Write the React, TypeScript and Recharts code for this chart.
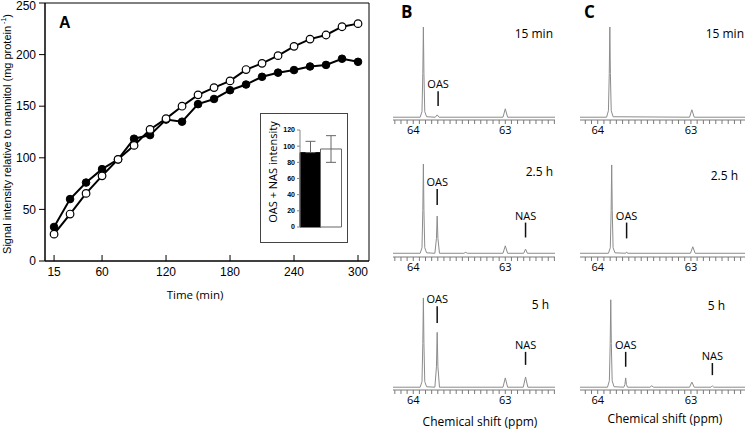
import React from "react";
import {
  Bar,
  BarChart,
  Cell,
  ErrorBar,
  Line,
  LineChart,
  ReferenceArea,
  ReferenceLine,
  XAxis,
  YAxis,
} from "recharts";

// Panel A: time course (min) and signal relative to mannitol
const timeMin = [15, 30, 45, 60, 75, 90, 105, 120, 135, 150, 165, 180, 195, 210, 225, 240, 255, 270, 285, 300];
const filledSignal = [33, 60, 76, 89, 98.5, 118.5, 122, 137, 135, 152, 157, 165.5, 171, 178.5, 182.5, 185, 188.5, 190, 196, 193];
const openSignal = [26, 45.5, 65.5, 82.5, 98.5, 112, 127.5, 138, 150, 161, 168, 174.5, 185.5, 191.5, 199, 208, 215, 219, 227, 230];
const timeTicks = [15, 60, 120, 180, 240, 300];
const signalTicks = [0, 50, 100, 150, 200, 250];

// Inset: OAS + NAS intensity
const insetGroups = ["filled", "open"];
const insetMeans = [92, 96.5];
const insetErrors: [number, number][] = [
  [0, 14],
  [16.5, 16.5],
];
const insetTicks = [0, 20, 40, 60, 80, 100, 120];

// Panels B and C: 13C spectra, [ppm, intensity]
const ppmLabels = [64, 63];
const ppmTickStep = 1 / 15; // 10 Hz grid

const spectrumB15: [number, number][] = [
  [64.22, 3], [63.925, 3], [63.905, 9], [63.896, 50], [63.89, 100], [63.884, 50], [63.875, 9], [63.855, 3.5],
  [63.76, 3], [63.74, 5.5], [63.72, 3], [63.025, 3], [63.0, 12], [62.975, 3], [62.46, 3],
];
const spectrumB25: [number, number][] = [
  [64.22, 4], [63.925, 4], [63.905, 10], [63.896, 50], [63.89, 100], [63.884, 50], [63.875, 10], [63.855, 4.5],
  [63.765, 4], [63.748, 20], [63.74, 44], [63.732, 20], [63.715, 4], [63.45, 4], [63.43, 5], [63.41, 4],
  [63.025, 4], [63.0, 12], [62.975, 4], [62.8, 4], [62.78, 8.5], [62.76, 4], [62.46, 4],
];
const spectrumB5: [number, number][] = [
  [64.22, 3], [63.925, 3], [63.905, 9], [63.896, 50], [63.89, 99], [63.884, 50], [63.875, 9], [63.855, 3.5],
  [63.765, 3], [63.748, 25], [63.74, 62], [63.732, 25], [63.715, 3], [63.025, 3], [63.0, 13], [62.975, 3],
  [62.805, 3], [62.78, 14], [62.755, 3], [62.46, 3],
];
const spectrumC15: [number, number][] = [
  [64.19, 3], [63.905, 3], [63.885, 10], [63.876, 50], [63.87, 100], [63.864, 50], [63.855, 10], [63.835, 3.5],
  [63.015, 3], [62.99, 11], [62.965, 3], [62.42, 3],
];
const spectrumC25: [number, number][] = [
  [64.19, 4], [63.885, 4], [63.865, 10], [63.856, 50], [63.85, 99], [63.844, 50], [63.835, 10], [63.815, 4.5],
  [63.7, 4], [63.69, 5.5], [63.68, 4], [63.005, 4], [62.98, 11], [62.955, 4], [62.42, 4],
];
const spectrumC5: [number, number][] = [
  [64.19, 3], [63.895, 3], [63.875, 10], [63.866, 50], [63.86, 97], [63.854, 50], [63.845, 10], [63.825, 3.5],
  [63.72, 3], [63.708, 6], [63.7, 13], [63.692, 6], [63.68, 3], [63.44, 3], [63.42, 4.5], [63.4, 3],
  [63.015, 3], [62.99, 8.5], [62.965, 3], [62.785, 3], [62.77, 4.5], [62.755, 3], [62.42, 3],
];

type Marker = { label: string; ppm: number; from: number; to: number };

const markersB15: Marker[] = [{ label: "OAS", ppm: 63.73, from: 15, to: 31 }];
const markersB25: Marker[] = [
  { label: "OAS", ppm: 63.74, from: 56, to: 73 },
  { label: "NAS", ppm: 62.78, from: 21, to: 37 },
];
const markersB5: Marker[] = [
  { label: "OAS", ppm: 63.74, from: 72, to: 90 },
  { label: "NAS", ppm: 62.78, from: 27, to: 41 },
];
const markersC25: Marker[] = [{ label: "OAS", ppm: 63.69, from: 20, to: 37 }];
const markersC5: Marker[] = [
  { label: "OAS", ppm: 63.7, from: 25, to: 41 },
  { label: "NAS", ppm: 62.77, from: 16, to: 29 },
];

const domainB: [number, number] = [62.46, 64.22];
const domainC: [number, number] = [62.42, 64.19];

const sans = "Liberation Sans, Arial, sans-serif";
const humanist = "Open Sans, sans-serif";

function ppmTicks([lo, hi]: [number, number]) {
  const ticks: number[] = [];
  for (let k = Math.ceil((lo - 64) / ppmTickStep - 1e-6); 64 + k * ppmTickStep <= hi + 1e-6; k++) {
    ticks.push(64 + k * ppmTickStep);
  }
  return ticks;
}

function PpmTick(props: any) {
  const { x, y, payload } = props;
  const label = ppmLabels.find((v) => Math.abs(v - payload.value) < 1e-6);
  if (label === undefined) return <g />;
  return (
    <text x={x} y={y} dy="0.71em" textAnchor="middle" fontSize={11} fontFamily={humanist} fill="#000">
      {label}
    </text>
  );
}

function TimeTick(props: any) {
  const { x, y, payload } = props;
  return (
    <g>
      <line x1={x} x2={x} y1={y} y2={y - 6} stroke="#000" />
      <text x={x} y={y + 6} dy="0.71em" textAnchor="middle" fontSize={12} fontFamily={sans} fill="#000">
        {payload.value}
      </text>
    </g>
  );
}

function SignalTick(props: any) {
  const { x, y, payload } = props;
  // keep the top label inside the page like the original
  const shift = payload.value === 250 ? 3 : 0;
  return (
    <text x={x} y={y + shift} dy="0.355em" textAnchor="end" fontSize={12} fontFamily={sans} fill="#000">
      {payload.value}
    </text>
  );
}

type SpectrumProps = {
  left: number;
  axisY: number;
  width: number;
  marginRight: number;
  domain: [number, number];
  points: [number, number][];
  markers: Marker[];
};

const plotHeight = 93;
const headroom = 20;

function Spectrum({ left, axisY, width, marginRight, domain, points, markers }: SpectrumProps) {
  const data = points.map(([ppm, intensity]) => ({ ppm, intensity }));
  return (
    <div style={{ position: "absolute", left, top: axisY - plotHeight - headroom }}>
      <LineChart
        width={width}
        height={plotHeight + headroom + 20}
        data={data}
        margin={{ top: headroom, right: marginRight, left: 13, bottom: 0 }}
      >
        <XAxis
          type="number"
          dataKey="ppm"
          domain={domain}
          reversed
          allowDataOverflow
          ticks={ppmTicks(domain)}
          interval={0}
          height={20}
          tickSize={4}
          tickMargin={2}
          stroke="#7a7a7a"
          tick={PpmTick}
        />
        <YAxis hide domain={[0, 100]} />
        <Line
          dataKey="intensity"
          type="linear"
          stroke="#8c8c8c"
          strokeWidth={1}
          dot={false}
          isAnimationActive={false}
        />
        {markers.map((m) => (
          <ReferenceLine
            key={m.label}
            segment={[
              { x: m.ppm, y: m.from },
              { x: m.ppm, y: m.to },
            ]}
            stroke="#111"
            strokeWidth={1.5}
            label={{ value: m.label, position: "top", offset: 3, fontSize: 11, fontFamily: humanist, fill: "#000" }}
          />
        ))}
      </LineChart>
    </div>
  );
}

export default function App() {
  const timeRows = timeMin.map((t, i) => ({ t, filled: filledSignal[i], open: openSignal[i] }));
  const insetRows = insetGroups.map((name, i) => ({ name, value: insetMeans[i], err: insetErrors[i] }));

  return (
    <div style={{ position: "absolute", left: 0, top: 0, width: 745, height: 431, background: "#fff", overflow: "hidden" }}>
      <div style={{ position: "absolute", left: 0, top: 0 }}>
        <LineChart width={375} height={310} data={timeRows} margin={{ top: 3, right: 6, left: 0, bottom: 0 }}>
          <XAxis
            type="number"
            dataKey="t"
            domain={[6.5, 310.3]}
            allowDataOverflow
            ticks={timeTicks}
            interval={0}
            height={49}
            tickLine={false}
            tickSize={0}
            tickMargin={0}
            stroke="#000"
            tick={TimeTick}
          />
          <YAxis
            domain={[0, 250]}
            ticks={signalTicks}
            interval={0}
            width={45}
            tickSize={6}
            tickMargin={3}
            stroke="#000"
            tick={SignalTick}
          />
          <ReferenceArea x1={6.5} x2={310.3} y1={0} y2={250} fill="none" stroke="#000" strokeWidth={1} ifOverflow="visible" />
          <Line
            dataKey="filled"
            type="linear"
            stroke="#000"
            strokeWidth={2}
            dot={{ r: 3.8, fill: "#000", stroke: "#000", strokeWidth: 1 }}
            isAnimationActive={false}
          />
          <Line
            dataKey="open"
            type="linear"
            stroke="#000"
            strokeWidth={2}
            dot={{ r: 3.8, fill: "#fff", stroke: "#000", strokeWidth: 1.2 }}
            isAnimationActive={false}
          />
        </LineChart>
      </div>

      <div
        style={{
          position: "absolute",
          left: 260,
          top: 113,
          width: 88,
          height: 130,
          boxSizing: "border-box",
          border: "1px solid #444",
          background: "#fff",
        }}
      >
        <BarChart width={86} height={128} data={insetRows} margin={{ top: 16, right: 6, left: 0, bottom: 15 }} barCategoryGap={0} barGap={0}>
          <XAxis dataKey="name" hide />
          <YAxis
            domain={[0, 120]}
            ticks={insetTicks}
            interval={0}
            width={39}
            tickSize={3}
            tickMargin={2}
            stroke="#888"
            tick={{ fontSize: 7, fontWeight: "bold", fontFamily: sans, fill: "#000" }}
          />
          <Bar dataKey="value" isAnimationActive={false}>
            <Cell fill="#000" stroke="#000" />
            <Cell fill="#fff" stroke="#666" />
            <ErrorBar dataKey="err" width={5} stroke="#666" strokeWidth={1} />
          </Bar>
        </BarChart>
      </div>

      <Spectrum left={380} axisY={120} width={180} marginRight={5} domain={domainB} points={spectrumB15} markers={markersB15} />
      <Spectrum left={380} axisY={257} width={180} marginRight={5} domain={domainB} points={spectrumB25} markers={markersB25} />
      <Spectrum left={380} axisY={390} width={180} marginRight={5} domain={domainB} points={spectrumB5} markers={markersB5} />
      <Spectrum left={567} axisY={120} width={178} marginRight={0} domain={domainC} points={spectrumC15} markers={[]} />
      <Spectrum left={567} axisY={257} width={178} marginRight={0} domain={domainC} points={spectrumC25} markers={markersC25} />
      <Spectrum left={567} axisY={390} width={178} marginRight={0} domain={domainC} points={spectrumC5} markers={markersC5} />

      <svg width={745} height={431} style={{ position: "absolute", left: 0, top: 0, pointerEvents: "none" }}>
        <text x={59} y={28} fontSize={16} fontWeight="bold" fontFamily={sans} fill="#000">A</text>
        <text x={401} y={18} fontSize={17} fontWeight="bold" fontFamily={humanist} fill="#000">B</text>
        <text x={584} y={18} fontSize={17} fontWeight="bold" fontFamily={humanist} fill="#000">C</text>

        <text
          transform="translate(7,134) rotate(-90)"
          textAnchor="middle"
          dominantBaseline="central"
          fontSize={11}
          fontFamily={sans}
          fill="#000"
        >
          Signal intensity relative to mannitol (mg protein
          <tspan fontSize={7} dy={-4}> -1</tspan>
          <tspan dy={4}>)</tspan>
        </text>
        <text x={195} y={299} textAnchor="middle" fontSize={11.5} fontFamily={humanist} fill="#000">Time (min)</text>
        <text
          transform="translate(272,172) rotate(-90)"
          textAnchor="middle"
          dominantBaseline="central"
          fontSize={11}
          fontFamily={humanist}
          fill="#000"
        >
          OAS + NAS intensity
        </text>

        <text x={553} y={38} textAnchor="end" fontSize={12} fontFamily={humanist} fill="#000">15 min</text>
        <text x={553} y={176} textAnchor="end" fontSize={12} fontFamily={humanist} fill="#000">2.5 h</text>
        <text x={549} y={309} textAnchor="end" fontSize={12} fontFamily={humanist} fill="#000">5 h</text>
        <text x={744} y={38} textAnchor="end" fontSize={12} fontFamily={humanist} fill="#000">15 min</text>
        <text x={738} y={180} textAnchor="end" fontSize={12} fontFamily={humanist} fill="#000">2.5 h</text>
        <text x={725} y={310} textAnchor="end" fontSize={12} fontFamily={humanist} fill="#000">5 h</text>

        <text x={480} y={426} textAnchor="middle" fontSize={12} fontFamily={humanist} fill="#000">Chemical shift (ppm)</text>
        <text x={665} y={423} textAnchor="middle" fontSize={12} fontFamily={humanist} fill="#000">Chemical shift (ppm)</text>
      </svg>
    </div>
  );
}
